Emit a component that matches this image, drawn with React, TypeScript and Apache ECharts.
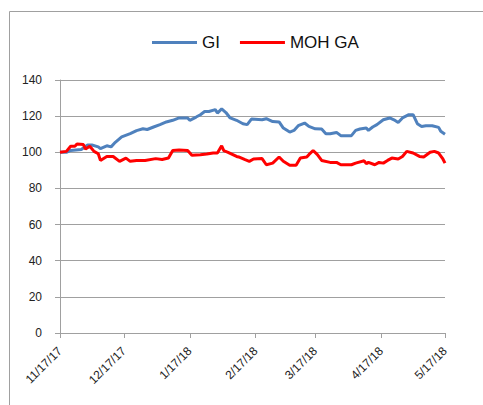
import React, { useEffect, useRef } from "react";
import * as echarts from "echarts";

const giDates = [
  "11/17/17", "11/20/17", "11/22/17", "11/27/17", "11/30/17", "12/2/17", "12/5/17", "12/6/17", "12/9/17", "12/11/17",
  "12/13/17", "12/16/17", "12/20/17", "12/23/17", "12/26/17", "12/28/17", "12/31/17", "1/3/18", "1/6/18", "1/9/18",
  "1/12/18", "1/16/18", "1/17/18", "1/20/18", "1/22/18", "1/24/18", "1/26/18", "1/29/18", "1/30/18", "2/1/18",
  "2/3/18", "2/5/18", "2/8/18", "2/11/18", "2/13/18", "2/15/18", "2/20/18", "2/22/18", "2/25/18", "2/28/18",
  "3/2/18", "3/5/18", "3/7/18", "3/9/18", "3/12/18", "3/14/18", "3/17/18", "3/20/18", "3/22/18", "3/24/18",
  "3/27/18", "3/29/18", "4/3/18", "4/5/18", "4/7/18", "4/10/18", "4/11/18", "4/13/18", "4/15/18", "4/18/18",
  "4/21/18", "4/23/18", "4/25/18", "4/27/18", "4/30/18", "5/2/18", "5/4/18", "5/6/18", "5/8/18", "5/11/18",
  "5/14/18", "5/15/18", "5/17/18",
];
const giValues = [
  100, 100, 101, 101.5, 104, 104, 103, 102, 103.6, 103,
  105.5, 108.5, 110.3, 112, 113, 112.6, 114, 115.3, 116.8, 117.7,
  119, 119, 117.7, 119.5, 120.8, 122.6, 122.6, 123.6, 121.7, 124,
  122, 119, 117.7, 115.8, 115.3, 118.4, 118, 118.6, 117, 116.8,
  113.4, 111.2, 112.1, 114.7, 116.2, 114.3, 113, 112.9, 110.3, 110.3,
  111, 109.2, 109.2, 112.1, 112.9, 113.4, 112.1, 114, 115.3, 118,
  119, 118, 116.5, 119, 120.8, 120.8, 115.8, 114.3, 114.7, 114.7,
  113.8, 111.6, 110,
];

const mohDates = [
  "11/17/17", "11/20/17", "11/22/17", "11/24/17", "11/25/17", "11/28/17", "11/29/17", "12/1/17", "12/3/17", "12/5/17",
  "12/6/17", "12/9/17", "12/12/17", "12/15/17", "12/18/17", "12/20/17", "12/23/17", "12/27/17", "1/1/18", "1/4/18",
  "1/7/18", "1/9/18", "1/12/18", "1/16/18", "1/18/18", "1/22/18", "1/25/18", "1/28/18", "1/30/18", "2/1/18",
  "2/2/18", "2/4/18", "2/8/18", "2/9/18", "2/12/18", "2/14/18", "2/16/18", "2/20/18", "2/22/18", "2/25/18",
  "2/28/18", "3/2/18", "3/5/18", "3/8/18", "3/10/18", "3/13/18", "3/14/18", "3/16/18", "3/18/18", "3/20/18",
  "3/24/18", "3/27/18", "3/29/18", "4/3/18", "4/5/18", "4/9/18", "4/10/18", "4/11/18", "4/14/18", "4/16/18",
  "4/18/18", "4/20/18", "4/22/18", "4/25/18", "4/27/18", "4/29/18", "5/2/18", "5/5/18", "5/7/18", "5/10/18",
  "5/12/18", "5/14/18", "5/16/18", "5/17/18",
];
const mohValues = [
  100, 100.5, 103.3, 103.3, 104.6, 104.3, 101.8, 103.3, 100.5, 99.2,
  95.5, 97.7, 97.7, 95, 96.8, 95, 95.5, 95.5, 96.5, 96,
  96.8, 101, 101.3, 101, 98.3, 98.6, 99, 99.6, 99.6, 103.6,
  100.9, 100, 97.7, 97.4, 95.9, 95, 96.3, 96.5, 93.1, 94,
  97.4, 95, 92.8, 92.8, 96.8, 97.4, 98.7, 101, 98.7, 95.5,
  94.4, 94.4, 93.1, 93.1, 94, 95.3, 93.7, 94.4, 93.1, 94.4,
  94, 95.5, 96.8, 96.3, 97.7, 100.5, 99.6, 97.7, 97.4, 100,
  100.5, 99.6, 96.3, 94,
];

const seriesNames = ["GI", "MOH GA"];
const seriesColors = ["#4f81bd", "#ff0000"];

function fmt(d: Date) {
  return `${d.getMonth() + 1}/${d.getDate()}/${String(d.getFullYear()).slice(2)}`;
}
const categories: string[] = [];
for (let d = new Date(2017, 10, 17, 12); d <= new Date(2018, 4, 17, 13); d.setDate(d.getDate() + 1)) {
  categories.push(fmt(d));
}
const isTickDay = (_i: number, v: string) => v.split("/")[1] === "17";

export default function App() {
  const ref = useRef<HTMLDivElement>(null);
  useEffect(() => {
    if (!ref.current) return;
    const chart = echarts.init(ref.current, null, { renderer: "svg" });
    const font = "'Liberation Sans', Arial, sans-serif";
    chart.setOption({
      animation: false,
      backgroundColor: "#ffffff",
      graphic: [
        {
          type: "rect",
          shape: { x: 9.5, y: 11.5, width: 600, height: 600 },
          style: { fill: "none", stroke: "#a0a0a0", lineWidth: 1 },
          silent: true,
        },
      ],
      legend: {
        left: 147,
        top: 29,
        icon: "rect",
        itemWidth: 45,
        itemHeight: 3,
        itemGap: 20,
        textStyle: { fontSize: 17, fontFamily: font, color: "#111" },
        data: seriesNames,
      },
      grid: { left: 60, right: 38, top: 80, bottom: 72, containLabel: false },
      xAxis: {
        type: "category",
        data: categories,
        boundaryGap: false,
        axisLine: { lineStyle: { color: "#a0a0a0", width: 1 } },
        axisTick: { show: true, interval: isTickDay, length: 5, lineStyle: { color: "#a0a0a0" } },
        axisLabel: {
          interval: isTickDay,
          rotate: 45,
          margin: 16,
          fontSize: 12,
          fontFamily: font,
          color: "#222",
        },
        splitLine: { show: false },
      },
      yAxis: {
        type: "value",
        min: 0,
        max: 140,
        interval: 20,
        axisLine: { show: true, lineStyle: { color: "#a0a0a0", width: 1 } },
        axisTick: { show: true, length: 5, lineStyle: { color: "#a0a0a0" } },
        axisLabel: { margin: 18, fontSize: 12, fontFamily: font, color: "#222" },
        splitLine: { show: true, lineStyle: { color: "#a0a0a0", width: 1 } },
      },
      series: [
        {
          name: seriesNames[0],
          type: "line",
          data: giDates.map((d, i) => [d, giValues[i]]),
          showSymbol: false,
          symbol: "none",
          lineStyle: { color: seriesColors[0], width: 3 },
          itemStyle: { color: seriesColors[0] },
        },
        {
          name: seriesNames[1],
          type: "line",
          data: mohDates.map((d, i) => [d, mohValues[i]]),
          showSymbol: false,
          symbol: "none",
          lineStyle: { color: seriesColors[1], width: 3 },
          itemStyle: { color: seriesColors[1] },
        },
      ],
    });
    return () => chart.dispose();
  }, []);
  return <div ref={ref} style={{ position: "absolute", left: 0, top: 0, width: 483, height: 405 }} />;
}
